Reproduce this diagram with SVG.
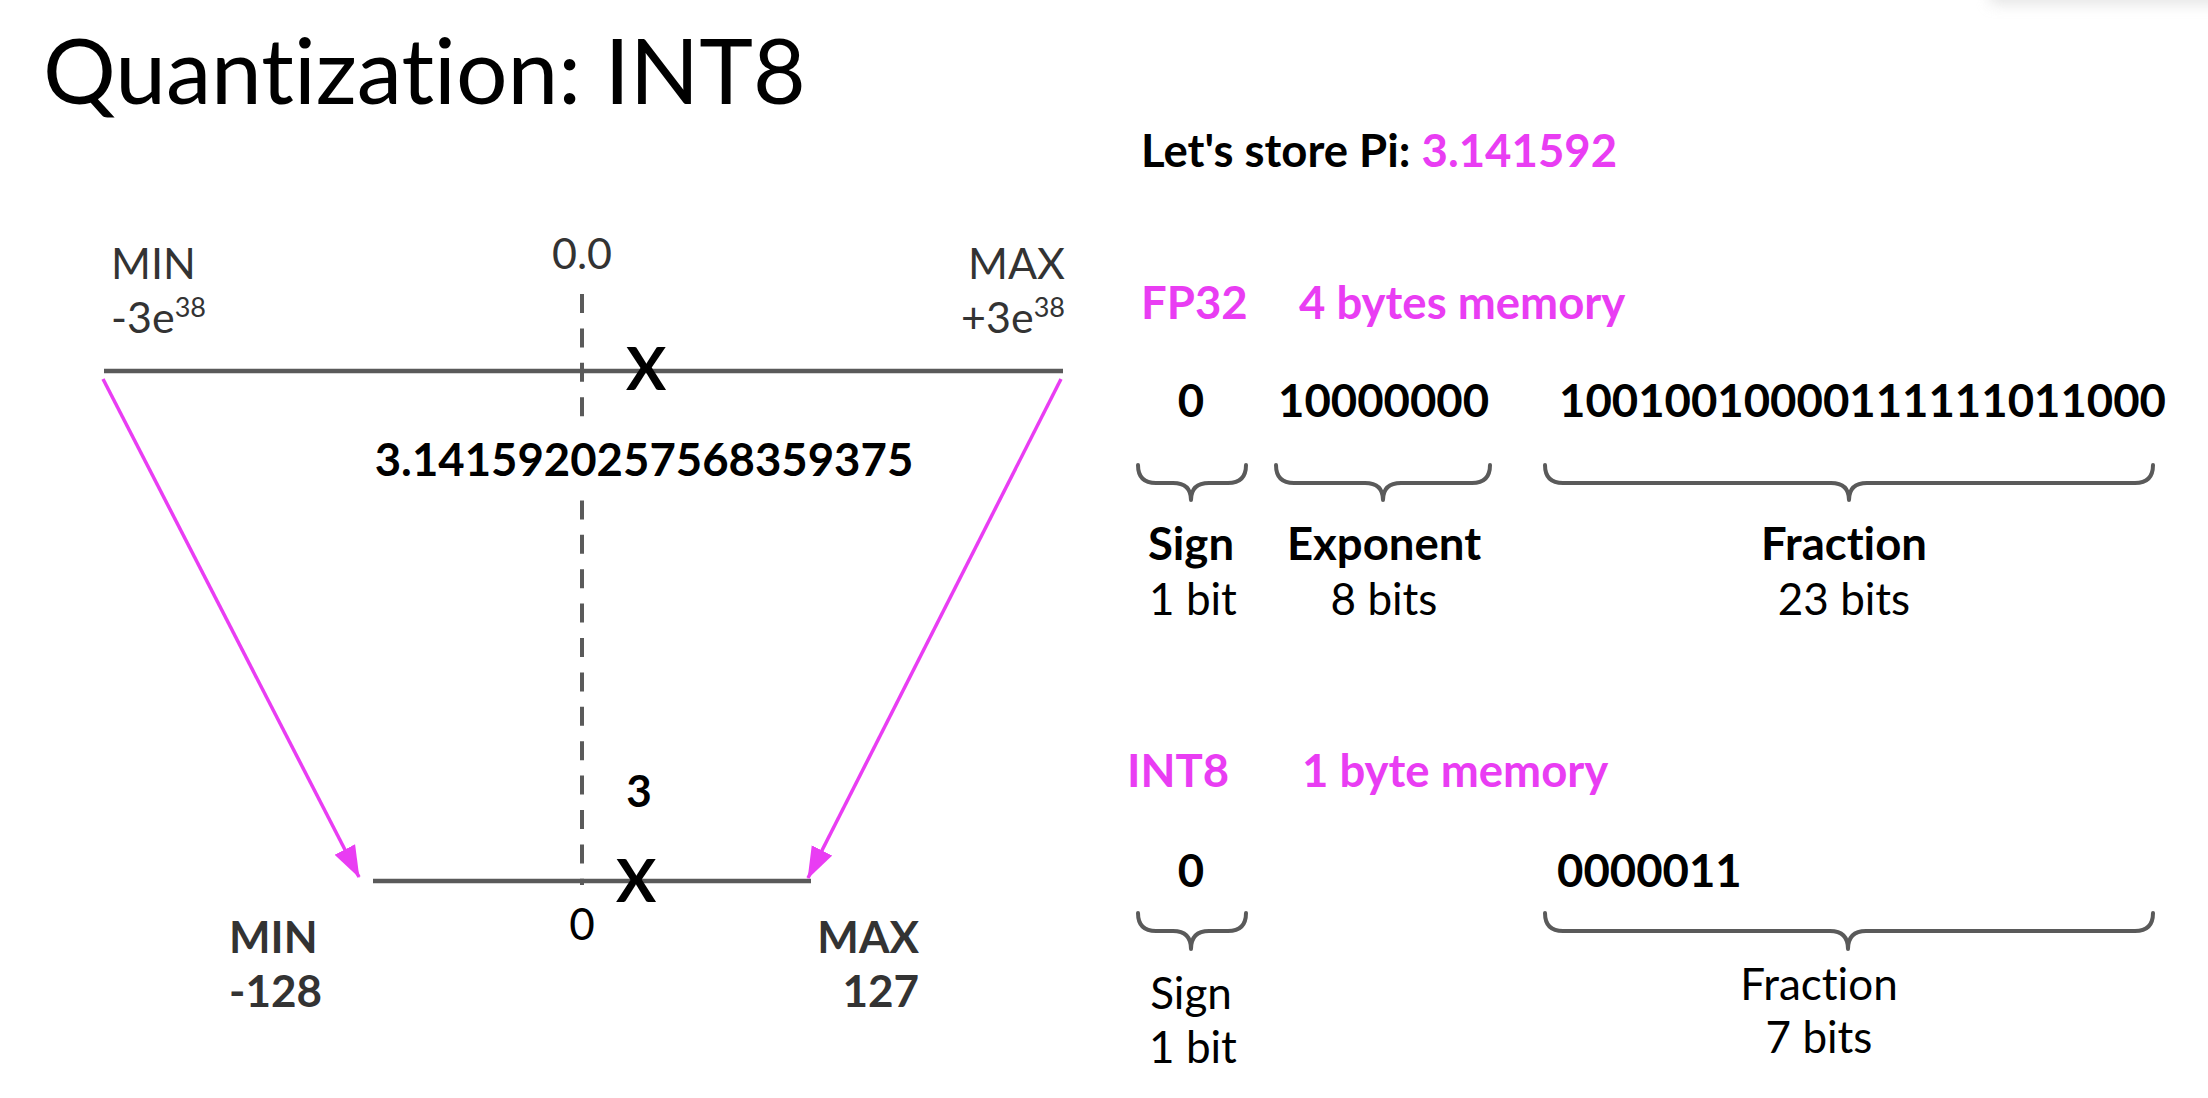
<svg xmlns="http://www.w3.org/2000/svg" width="2208" height="1098" viewBox="0 0 2208 1098">
<style>
text{font-family:Lato,"Liberation Sans",sans-serif;font-variant-ligatures:none;}
.r{font-weight:400;}
.b{font-weight:700;}
.g{fill:#333333;}
.k{fill:#000000;}
.m{fill:#E93DF3;}
.s44{font-size:44px;}
.s45{font-size:45.5px;}
.mid{text-anchor:middle;}
.end{text-anchor:end;}
.axis{stroke:#5a5a5a;stroke-width:4.5;fill:none;}
.brace{stroke:#5a5a5a;stroke-width:4;fill:none;stroke-linecap:round;stroke-linejoin:round;}
.arrow{stroke:#E93DF3;stroke-width:3.5;fill:none;}
</style>
<defs>
<marker id="ah" markerUnits="userSpaceOnUse" markerWidth="34" markerHeight="26" refX="31" refY="12" orient="auto">
<path d="M0,0.5 L32,12 L0,23.5 z" fill="#E93DF3"/>
</marker>
<filter id="blur" x="-20%" y="-100%" width="140%" height="300%">
<feGaussianBlur stdDeviation="7"/>
</filter>
</defs>
<rect width="2208" height="1098" fill="#ffffff"/>
<rect x="1990" y="-40" width="280" height="44" fill="#cfcfcf" opacity="0.55" filter="url(#blur)"/>

<g id="title">
<text x="43" y="104" class="r k" font-size="91">Quantization: INT8</text>
</g>

<g id="fp32-axis">
<line class="axis" x1="104" y1="371" x2="1063" y2="371"/>
<text x="111" y="279" class="r g" font-size="43">MIN</text>
<text x="111" y="333" class="r g" font-size="43">-3e<tspan font-size="27" dy="-16">38</tspan></text>
<text x="1065" y="279" class="r g end" font-size="43">MAX</text>
<text x="1065" y="333" class="r g end" font-size="43">+3e<tspan font-size="27" dy="-16">38</tspan></text>
<text x="582" y="269" class="r g mid" font-size="43">0.0</text>
</g>

<g id="zero-line">
<line x1="582" y1="294" x2="582" y2="885" stroke="#5a5a5a" stroke-width="4" stroke-dasharray="19 15.4"/>
</g>

<g id="fp32-value">
<rect x="364" y="424" width="564" height="68" fill="#ffffff"/>
<text x="644" y="476" class="b k mid s45">3.1415920257568359375</text>
<text x="646" y="390" class="b k mid" font-size="60">X</text>
</g>

<g id="int8-axis">
<line class="axis" x1="373" y1="881" x2="811" y2="881"/>
<text x="636" y="902" class="b k mid" font-size="60">X</text>
<text x="639" y="807" class="b k mid s44">3</text>
<text x="582" y="940" class="r k mid s44">0</text>
<text x="229" y="953" class="b g s44">MIN</text>
<text x="229" y="1007" class="b g s44">-128</text>
<text x="919" y="953" class="b g end s44">MAX</text>
<text x="919" y="1007" class="b g end s44">127</text>
</g>

<g id="connectors">
<line class="arrow" x1="103" y1="379" x2="359" y2="877" marker-end="url(#ah)"/>
<line class="arrow" x1="1061" y1="379" x2="808" y2="878" marker-end="url(#ah)"/>
</g>

<g id="pi-header">
<text x="1141" y="167" class="b k s45">Let's store Pi: <tspan class="m">3.141592</tspan></text>
</g>

<g id="fp32-format">
<text x="1141" y="319" class="b m s45">FP32</text>
<text x="1299" y="319" class="b m s45">4 bytes memory</text>
<text x="1191" y="417" class="b k mid s45">0</text>
<text x="1278" y="417" class="b k s45">10000000</text>
<text x="1559" y="417" class="b k s45">10010010000111111011000</text>
<path class="brace" d="M1138,465 Q1138,483 1156,483 L1173,483 Q1191,483 1191,500 Q1191,483 1209,483 L1228,483 Q1246,483 1246,465"/>
<path class="brace" d="M1276,465 Q1276,483 1294,483 L1365,483 Q1383,483 1383,500 Q1383,483 1401,483 L1472,483 Q1490,483 1490,465"/>
<path class="brace" d="M1545,465 Q1545,483 1563,483 L1831,483 Q1849,483 1849,500 Q1849,483 1867,483 L2135,483 Q2153,483 2153,465"/>
<text x="1191" y="560" class="b k mid s45">Sign</text>
<text x="1384" y="560" class="b k mid s45">Exponent</text>
<text x="1844" y="560" class="b k mid s45">Fraction</text>
<text x="1193" y="615" class="r k mid s44">1 bit</text>
<text x="1384" y="615" class="r k mid s44">8 bits</text>
<text x="1844" y="615" class="r k mid s44">23 bits</text>
</g>

<g id="int8-format">
<text x="1127" y="787" class="b m s45">INT8</text>
<text x="1302" y="787" class="b m s45">1 byte memory</text>
<text x="1191" y="887" class="b k mid s45">0</text>
<text x="1557" y="887" class="b k s45">0000011</text>
<path class="brace" d="M1138,913 Q1138,931 1156,931 L1173,931 Q1191,931 1191,949 Q1191,931 1209,931 L1228,931 Q1246,931 1246,913"/>
<path class="brace" d="M1545,913 Q1545,931 1563,931 L1830,931 Q1848,931 1848,949 Q1848,931 1866,931 L2135,931 Q2153,931 2153,913"/>
<text x="1191" y="1009" class="r k mid s44">Sign</text>
<text x="1193" y="1063" class="r k mid s44">1 bit</text>
<text x="1819" y="1000" class="r k mid s44">Fraction</text>
<text x="1819" y="1053" class="r k mid s44">7 bits</text>
</g>
</svg>
